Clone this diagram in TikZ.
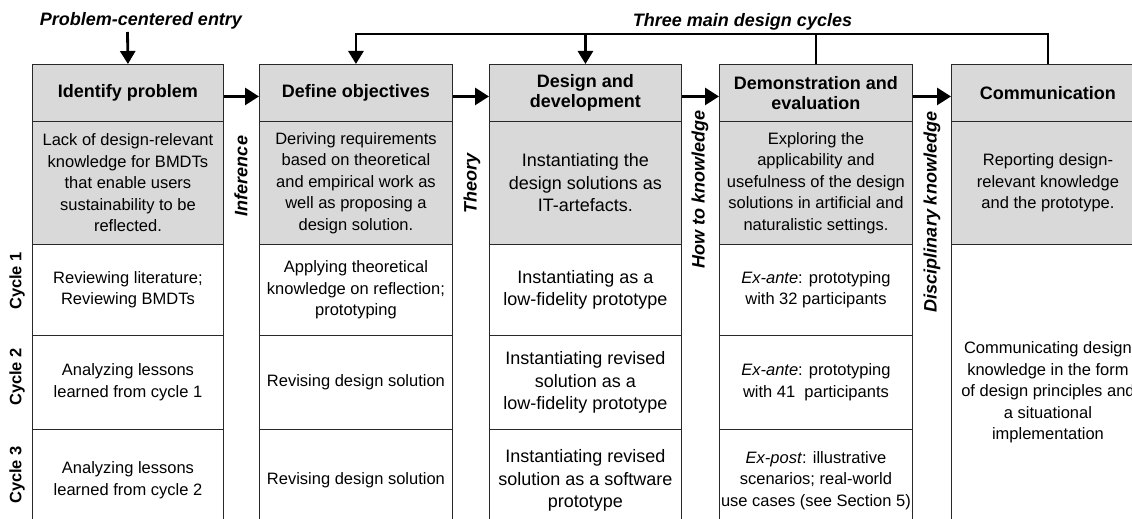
\documentclass[tikz,border=0pt]{standalone}
\usepackage{fontspec}
\setmainfont{Liberation Sans}
\usetikzlibrary{arrows.meta}
\definecolor{cellgray}{RGB}{217,217,217}
\definecolor{edge}{RGB}{40,40,40}
\begin{document}
\begin{tikzpicture}[x=1pt,y=-1pt,
 cell/.style={draw=edge, line width=0.9pt, inner sep=0pt, anchor=north west, align=center, font=\fontsize{16.5}{21.5}\selectfont},
 grayc/.style={cell, fill=cellgray},
 hdr/.style={grayc, font=\fontsize{18}{20.5}\selectfont\bfseries},
 big/.style={font=\fontsize{18}{22.5}\selectfont},
 col1/.style={minimum width=191pt},
 col2/.style={minimum width=193pt},
 col3/.style={minimum width=192pt},
 col4/.style={minimum width=193pt},
 col5/.style={minimum width=193pt},
 rowh/.style={minimum height=57pt},
 rowd/.style={minimum height=123pt},
 rowa/.style={minimum height=91pt},
 rowb/.style={minimum height=94pt},
 rowc/.style={minimum height=102pt},
 lab/.style={font=\fontsize{18}{21}\selectfont\bfseries\itshape, inner sep=0pt},
 vlab/.style={lab, rotate=90},
 cyc/.style={font=\fontsize{16.5}{20}\selectfont\bfseries, rotate=90, inner sep=0pt},
 thk/.style={line width=2.8pt},
 arr/.style={thk, -{Triangle[length=14pt,width=17pt]}},
 arrs/.style={thk, -{Triangle[length=13pt,width=15pt]}},
]
\useasboundingbox (0,0) rectangle (1132,519);
\clip (0,0) rectangle (1132,519);
\fill[white] (0,0) rectangle (1132,519);

% headers
\node[hdr, col1, rowh] (h1) at (32,64) {Identify problem};
\node[hdr, col2, rowh] (h2) at (259,64) {Define objectives};
\node[hdr, col3, rowh] (h3) at (489,64) {Design and\\development};
\node[hdr, col4, rowh] (h4) at (719,64) {Demonstration and\\evaluation};
\node[hdr, col5, rowh] (h5) at (951,64) {Communication};

% descriptions
\node[grayc, col1, rowd] (d1) at (32,121) {Lack of design-relevant\\knowledge for BMDTs\\that enable users\\sustainability to be\\reflected.};
\node[grayc, col2, rowd] (d2) at (259,121) {Deriving requirements\\based on theoretical\\and empirical work as\\well as proposing a\\design solution.};
\node[grayc, col3, rowd, big] (d3) at (489,121) {Instantiating the\\design solutions as\\IT-artefacts.};
\node[grayc, col4, rowd] (d4) at (719,121) {Exploring the\\applicability and\\usefulness of the design\\solutions in artificial and\\naturalistic settings.};
\node[grayc, col5, rowd] (d5) at (951,121) {Reporting design-\\relevant knowledge\\and the prototype.};

% cycle 1
\node[cell, col1, rowa] (a1) at (32,244) {Reviewing literature;\\Reviewing BMDTs};
\node[cell, col2, rowa] (a2) at (259,244) {Applying theoretical\\knowledge on reflection;\\prototyping};
\node[cell, col3, rowa, big] (a3) at (489,244) {Instantiating as a\\low-fidelity prototype};
\node[cell, col4, rowa] (a4) at (719,244) {\textit{Ex-ante}: prototyping\\with 32 participants};
% cycle 2
\node[cell, col1, rowb] (b1) at (32,335) {Analyzing lessons\\learned from cycle 1};
\node[cell, col2, rowb] (b2) at (259,335) {Revising design solution};
\node[cell, col3, rowb, big] (b3) at (489,335) {Instantiating revised\\solution as a\\low-fidelity prototype};
\node[cell, col4, rowb] (b4) at (719,335) {\textit{Ex-ante}: prototyping\\with 41~ participants};
% cycle 3
\node[cell, col1, rowc] (c1) at (32,429) {Analyzing lessons\\learned from cycle 2};
\node[cell, col2, rowc] (c2) at (259,429) {Revising design solution};
\node[cell, col3, rowc, big] (c3) at (489,429) {Instantiating revised\\solution as a software\\prototype};
\node[cell, col4, rowc] (c4) at (719,429) {\textit{Ex-post}: illustrative\\scenarios; real-world\\use cases (see Section 5)};
% communication merged
\node[cell, col5, minimum height=296pt] (m5) at (951,244) {Communicating design\\knowledge in the form\\of design principles and\\a situational\\implementation};

% cycle labels
\node[cyc] (cy1) at (17,281) {Cycle 1};
\node[cyc] (cy2) at (17,377) {Cycle 2};
\node[cyc] (cy3) at (17,475) {Cycle 3};

% vertical labels
\node[vlab] (inf) at (241,176) {Inference};
\node[vlab] (thy) at (472,183) {Theory};
\node[vlab] (htk) at (700,189) {How to knowledge};
\node[vlab] (dsk) at (932,212) {Disciplinary knowledge};

% top labels
\node[lab] (pce) at (141,21) {Problem-centered entry};
\node[lab] (tmdc) at (742.5,22) {Three main design cycles};

% arrows between phases
\draw[arr] ([yshift=-3.5pt]h1.east) -- ([yshift=-3.5pt]h2.west);
\draw[arr] ([yshift=-3.5pt]h2.east) -- ([yshift=-3.5pt]h3.west);
\draw[arr] ([yshift=-3.5pt]h3.east) -- ([yshift=-3.5pt]h4.west);
\draw[arr] ([yshift=-3.5pt]h4.east) -- ([yshift=-3.5pt]h5.west);

% entry arrow
\coordinate (entry) at (127.5,32);
\draw[arrs] (entry) -- (h1.north);

% feedback cycles
\coordinate (fb) at (585,34);
\draw[arrs, line join=miter] (h5.north) |- (h2.north |- fb) -- (h2.north);
\draw[thk] (h4.north) -- (h4.north |- fb);
\draw[arrs] (h3.north |- fb) -- (h3.north);
\end{tikzpicture}
\end{document}
